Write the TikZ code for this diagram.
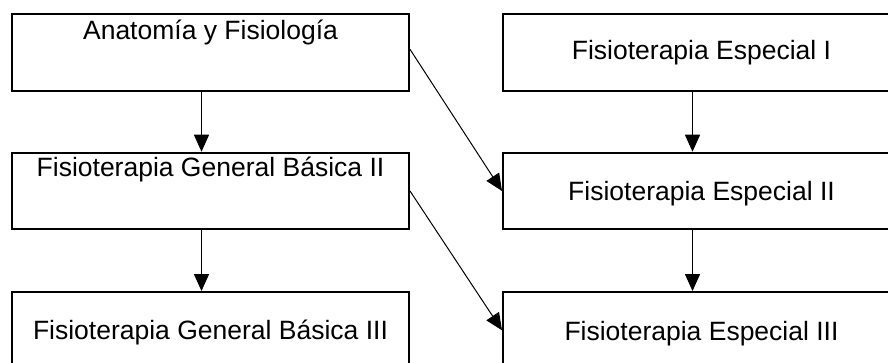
\documentclass[tikz,border=0pt]{standalone}
\usepackage{fontspec}
\setmainfont{Liberation Sans}
\usetikzlibrary{arrows.meta}
\tikzset{
  box/.style={draw, line width=2pt, rectangle, minimum width=397pt, minimum height=76.5pt, inner sep=0pt},
  lbl/.style={anchor=base, inner sep=0pt, font=\fontsize{26.5}{30}\selectfont},
  varrow/.style={line width=1.3pt, -{Triangle[length=17pt,width=15pt]}},
  darrow/.style={line width=1pt, -{Triangle[length=17pt,width=15pt]}}
}
\begin{document}
\begin{tikzpicture}[x=1pt,y=-1pt]
\useasboundingbox (0,0) rectangle (888,363);
\clip (0,0) rectangle (888,363);
% boxes
\node[box] (A) at (210.5,52.3) {};
\node[box] (B) at (210.5,191) {};
\node[box] (C) at (210.5,330.3) {};
\node[box] (R1) at (701.5,52.3) {};
\node[box] (R2) at (701.5,191) {};
\node[box] (R3) at (701.5,330.3) {};
% texts
\node[lbl] (tA) at (210.5,39.5) {Anatomía y Fisiología};
\node[lbl] (tB) at (210.5,177) {Fisioterapia General Básica II};
\node[lbl] (tC) at (210.5,339.5) {Fisioterapia General Básica III};
\node[lbl] (tR1) at (701.5,60) {Fisioterapia Especial I};
\node[lbl] (tR2) at (701.5,201) {Fisioterapia Especial II};
\node[lbl] (tR3) at (701.5,340) {Fisioterapia Especial III};
% vertical arrows
\draw[varrow] ([xshift=-9pt]A.south) -- ([xshift=-9pt]B.north);
\draw[varrow] ([xshift=-9pt]B.south) -- ([xshift=-9pt]C.north);
\draw[varrow] ([xshift=-9pt]R1.south) -- ([xshift=-9pt]R2.north);
\draw[varrow] ([xshift=-9pt]R2.south) -- ([xshift=-9pt]R3.north);
% diagonal arrows
\draw[darrow] ([yshift=3pt]A.east) -- (R2.west);
\draw[darrow] (B.east) -- (R3.west);
\end{tikzpicture}
\end{document}
